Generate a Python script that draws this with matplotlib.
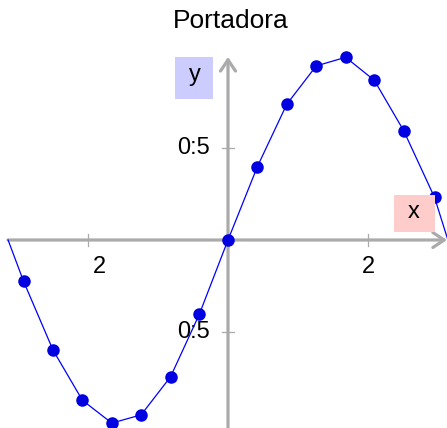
import matplotlib
matplotlib.use("Agg")
import matplotlib.pyplot as plt
from matplotlib.patches import Rectangle
import numpy as np

# ---- data ----
x_points = [-2.92, -2.50, -2.08, -1.66, -1.24, -0.82, -0.41, 0.0,
            0.42, 0.84, 1.26, 1.68, 2.09, 2.51, 2.95]
y_points = [-0.225, -0.598, -0.871, -0.995, -0.950, -0.743, -0.404, 0.0,
            0.399, 0.738, 0.946, 0.993, 0.868, 0.594, 0.232]
x_ends = [-3.1416, 3.1416]          # curve meets the x axis at both ends
y_ends = [0.0, 0.0]
x_ticks = [-2, 2]
x_tick_labels = ['2', '2']
y_ticks = [0.5, -0.5]
y_tick_labels = ['0:5', '0:5']
title = 'Portadora'
x_label = 'x'
y_label = 'y'

plt.rcParams['font.family'] = ['Liberation Sans', 'DejaVu Sans']

W, H = 447, 428
fig = plt.figure(figsize=(W / 100, H / 100), dpi=100)

def fx(px):
    return px / W

def fy(py):
    return 1 - py / H

# axes: origin at pixel (228, 240), 70 px per x unit, 184 px per y unit
ax = fig.add_axes([fx(8), 0, (447 - 8) / W, (428 - 40) / H])
xmin, xmax = -220 / 70, 219 / 70
ymin, ymax = -188 / 184, 200 / 184
ax.set_xlim(xmin, xmax)
ax.set_ylim(ymin, ymax)
ax.axis('off')

axis_col = '#aaaaaa'
# x axis with arrow
ax.annotate('', xy=(xmax, 0), xytext=(xmin, 0),
            arrowprops=dict(arrowstyle='->,head_length=0.45,head_width=0.3',
                            color=axis_col, lw=2.3, shrinkA=0, shrinkB=0,
                            mutation_scale=18),
            annotation_clip=False, zorder=1)
# y axis with arrow
ax.annotate('', xy=(0, 0.995), xytext=(0, ymin),
            arrowprops=dict(arrowstyle='->,head_length=0.45,head_width=0.3',
                            color=axis_col, lw=2.3, shrinkA=0, shrinkB=0,
                            mutation_scale=18),
            annotation_clip=False, zorder=1)

# ticks
tx = 6 / 184
ty = 6 / 70
for xt, lab in zip(x_ticks, x_tick_labels):
    ax.plot([xt, xt], [-tx, tx], color=axis_col, lw=0.9, zorder=1, clip_on=False)
    off = 11 / 70 if xt < 0 else 0
    ax.text(xt + off, -27 / 184, lab, ha='center', va='center', fontsize=17,
            color='black', zorder=2)
for yt, lab in zip(y_ticks, y_tick_labels):
    ax.plot([-ty, ty], [yt, yt], color=axis_col, lw=0.9, zorder=1, clip_on=False)
    ax.text(-18 / 70, yt, lab, ha='right', va='center', fontsize=17,
            color='black', zorder=2)

# curve and points
ax.plot([x_ends[0]] + x_points + [x_ends[1]], [y_ends[0]] + y_points + [y_ends[1]],
        color='#0000ff', lw=0.9, zorder=3, clip_on=False)
ax.plot(x_points, y_points, linestyle='none', marker='o', markersize=8,
        color='#0000e0', zorder=4, clip_on=False)

# title
fig.text(fx(231), fy(27.5), title, ha='center', va='baseline', fontsize=19,
         color='black')

# axis label boxes
fig.patches.append(Rectangle((fx(175), fy(98.7)), (213.3 - 175) / W, (98.7 - 57.3) / H,
                             transform=fig.transFigure, facecolor='#ccccff',
                             edgecolor='none', zorder=5))
fig.text(fx(194.5), fy(75), y_label, ha='center', va='center', fontsize=17,
         color='black', zorder=6)
fig.patches.append(Rectangle((fx(394), fy(232.3)), (435 - 394) / W, (232.3 - 195) / H,
                             transform=fig.transFigure, facecolor='#ffcccc',
                             edgecolor='none', zorder=5))
fig.text(fx(414), fy(212), x_label, ha='center', va='center', fontsize=17,
         color='black', zorder=6)

fig.savefig('out.png', dpi=100)
